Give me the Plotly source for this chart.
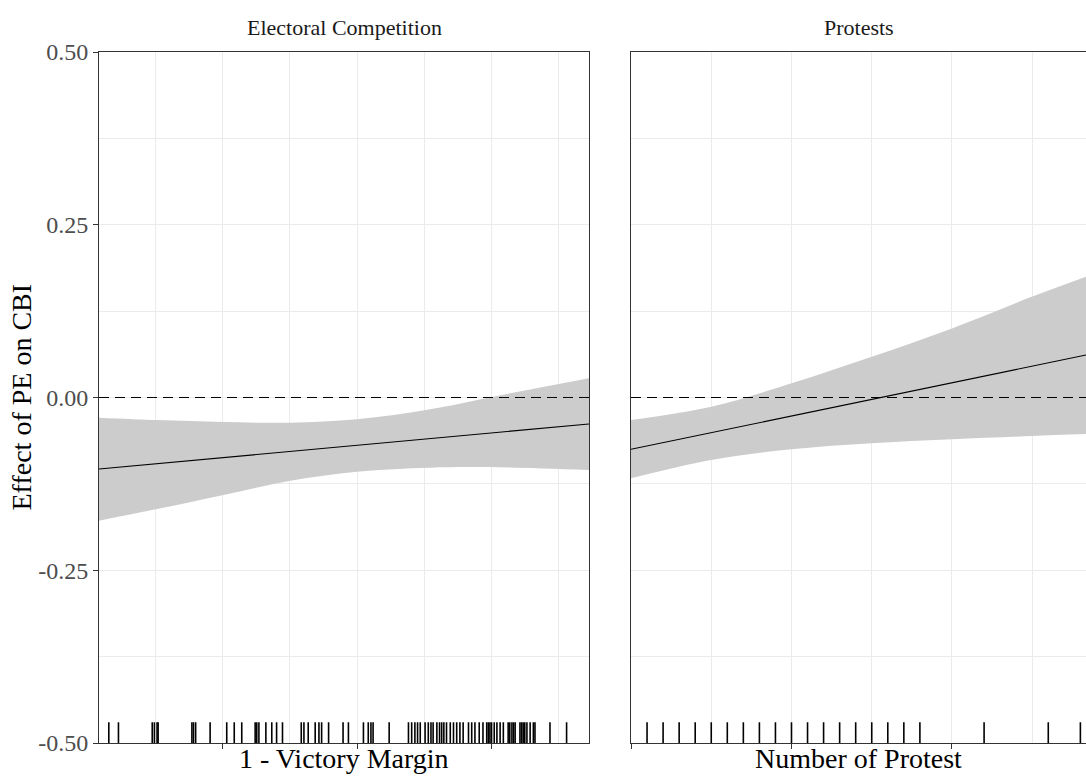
import plotly.graph_objects as go

# ---------------- data ----------------
panel_titles = ["Electoral Competition", "Protests"]
x_titles = ["1 - Victory Margin", "Number of Protest"]
y_title = "Effect of PE on CBI"

y_tickvals = [-0.5, -0.25, 0.0, 0.25, 0.5]
y_ticktext = ["-0.50", "-0.25", "0.00", "0.25", "0.50"]
y_minor = [-0.375, -0.125, 0.125, 0.375]

# Panel 1: Electoral competition
ec_range = [0.0187, 0.9328]
ec_line_x = [0.0187, 0.9328]
ec_effect = [-0.1035, -0.0383]
ec_band_x = [0.0187, 0.127, 0.251, 0.3756, 0.5, 0.6368, 0.7612, 0.9328]
ec_upper = [-0.0292, -0.0326, -0.0355, -0.0364, -0.0316, -0.0171, 0.0022, 0.0277]
ec_lower = [-0.1782, -0.1614, -0.1411, -0.1204, -0.1073, -0.1015, -0.1010, -0.1049]
ec_rug = [0.037, 0.055, 0.118, 0.122, 0.127, 0.129, 0.192, 0.195, 0.199, 0.226,
          0.257, 0.271, 0.285, 0.310, 0.313, 0.317, 0.330, 0.341, 0.350, 0.361,
          0.396, 0.401, 0.409, 0.422, 0.429, 0.434, 0.447, 0.474, 0.484, 0.512,
          0.521, 0.526, 0.530, 0.560, 0.596, 0.602, 0.608, 0.613, 0.618, 0.627,
          0.633, 0.638, 0.642, 0.649, 0.654, 0.658, 0.662, 0.667, 0.674, 0.680,
          0.686, 0.692, 0.698, 0.708, 0.714, 0.720, 0.728, 0.735, 0.742, 0.745,
          0.748, 0.751, 0.756, 0.761, 0.767, 0.773, 0.782, 0.785, 0.789, 0.792,
          0.795, 0.804, 0.807, 0.810, 0.813, 0.817, 0.823, 0.829, 0.832, 0.860,
          0.891]
ec_ticks = [0.25, 0.5, 0.75]
ec_minor = [0.125, 0.375, 0.625, 0.875]

# Panel 2: Protests
pr_range = [0, 28.35]
pr_line_x = [0, 28.35]
pr_effect = [-0.075, 0.0615]
pr_band_x = [0, 5, 10, 15, 20, 25, 28.35]
pr_upper = [-0.0326, -0.0133, 0.0205, 0.059, 0.100, 0.146, 0.1748]
pr_lower = [-0.117, -0.0905, -0.075, -0.0663, -0.0605, -0.0557, -0.0528]
pr_rug = [1, 2, 3, 4, 5, 6, 7, 8, 9, 10, 11, 12, 13, 14, 15, 16, 17, 18, 22, 26, 28]
pr_ticks = [0, 10, 20]
pr_minor = [5, 15, 25]

rug_len = 0.03  # fraction of y range
y_range = [-0.5, 0.5]

# ---------------- style ----------------
FONT = "Liberation Serif"
BAND = "#CCCCCC"
GRID = "#EBEBEB"
AXIS = "#333333"

fig = go.Figure()


def add_panel(xa, ya, bx, up, lo, lx, ly, rug):
    fig.add_trace(go.Scatter(x=bx, y=lo, mode="lines", line=dict(width=0, shape="spline"),
                             hoverinfo="skip", showlegend=False, xaxis=xa, yaxis=ya))
    fig.add_trace(go.Scatter(x=bx, y=up, mode="lines", line=dict(width=0, shape="spline"),
                             fill="tonexty", fillcolor=BAND, hoverinfo="skip",
                             showlegend=False, xaxis=xa, yaxis=ya))
    fig.add_trace(go.Scatter(x=lx, y=ly, mode="lines", line=dict(color="black", width=1.1),
                             showlegend=False, xaxis=xa, yaxis=ya))
    rx, ry = [], []
    y0 = y_range[0]
    y1 = y_range[0] + rug_len * (y_range[1] - y_range[0])
    for v in rug:
        rx += [v, v, None]
        ry += [y0, y1, None]
    fig.add_trace(go.Scatter(x=rx, y=ry, mode="lines", line=dict(color="black", width=1.6),
                             hoverinfo="skip", showlegend=False, xaxis=xa, yaxis=ya))


add_panel("x", "y", ec_band_x, ec_upper, ec_lower, ec_line_x, ec_effect, ec_rug)
add_panel("x2", "y2", pr_band_x, pr_upper, pr_lower, pr_line_x, pr_effect, pr_rug)

# zero reference lines
for xr, yr in [("x domain", "y"), ("x2 domain", "y2")]:
    fig.add_shape(type="line", xref=xr, yref=yr, x0=0, x1=1, y0=0, y1=0,
                  line=dict(color="black", width=1.1, dash="10px,6px"))

W, H = 1086, 778
ml, mr, mt, mb = 99, 0, 52, 35
pw = W - ml - mr
d1 = [0, 490 / pw]
d2 = [532 / pw, 1]

common_x = dict(showticklabels=False, ticks="outside", ticklen=5, tickcolor=AXIS, tickwidth=1,
                showline=True, linecolor=AXIS, linewidth=1, mirror=True,
                showgrid=True, gridcolor=GRID, gridwidth=1, zeroline=False,
                automargin=False)

fig.update_layout(
    width=W, height=H,
    margin=dict(l=ml, r=mr, t=mt, b=mb, autoexpand=False),
    paper_bgcolor="white", plot_bgcolor="white",
    font=dict(family=FONT, color="black"),
    showlegend=False,
    xaxis=dict(domain=d1, range=ec_range, tickvals=ec_ticks, anchor="y",
               minor=dict(tickvals=ec_minor, showgrid=True, gridcolor=GRID, gridwidth=0.6, ticks=""),
               **common_x),
    xaxis2=dict(domain=d2, range=pr_range, tickvals=pr_ticks, anchor="y2",
                minor=dict(tickvals=pr_minor, showgrid=True, gridcolor=GRID, gridwidth=0.6, ticks=""),
                **common_x),
    yaxis=dict(range=y_range, tickvals=y_tickvals, ticktext=y_ticktext, anchor="x",
               ticks="outside", ticklen=5, tickcolor=AXIS, automargin=False,
               tickfont=dict(family=FONT, size=24, color="#4D4D4D"),
               showline=True, linecolor=AXIS, linewidth=1, mirror=True,
               showgrid=True, gridcolor=GRID, gridwidth=1, zeroline=False,
               minor=dict(tickvals=y_minor, showgrid=True, gridcolor=GRID, gridwidth=0.6, ticks="")),
    yaxis2=dict(range=y_range, tickvals=y_tickvals, anchor="x2",
                showticklabels=False, ticks="", automargin=False,
                showline=True, linecolor=AXIS, linewidth=1, mirror=False,
                showgrid=True, gridcolor=GRID, gridwidth=1, zeroline=False,
                minor=dict(tickvals=y_minor, showgrid=True, gridcolor=GRID, gridwidth=0.6, ticks="")),
)

# facet strip titles
for dom, txt in [(d1, panel_titles[0]), (d2, panel_titles[1])]:
    fig.add_annotation(text=txt, xref="paper", yref="paper",
                       x=(dom[0] + dom[1]) / 2, y=1, xanchor="center", yanchor="middle",
                       yshift=25, showarrow=False,
                       font=dict(family=FONT, size=22, color="#1A1A1A"))

# x-axis titles
for dom, txt in [(d1, x_titles[0]), (d2, x_titles[1])]:
    fig.add_annotation(text=txt, xref="paper", yref="paper",
                       x=(dom[0] + dom[1]) / 2, y=0, xanchor="center", yanchor="top",
                       yshift=2, showarrow=False,
                       font=dict(family=FONT, size=28, color="black"))

# y-axis title
fig.add_annotation(text=y_title, xref="paper", yref="paper", x=0, y=0.5,
                   xanchor="center", yanchor="middle", xshift=-78, textangle=-90,
                   showarrow=False, font=dict(family=FONT, size=28, color="black"))

# remove the default page margin so the figure sits at the window origin
fig.write_html("out.html", config={"displayModeBar": False},
               post_script="document.body.style.margin='0';")
